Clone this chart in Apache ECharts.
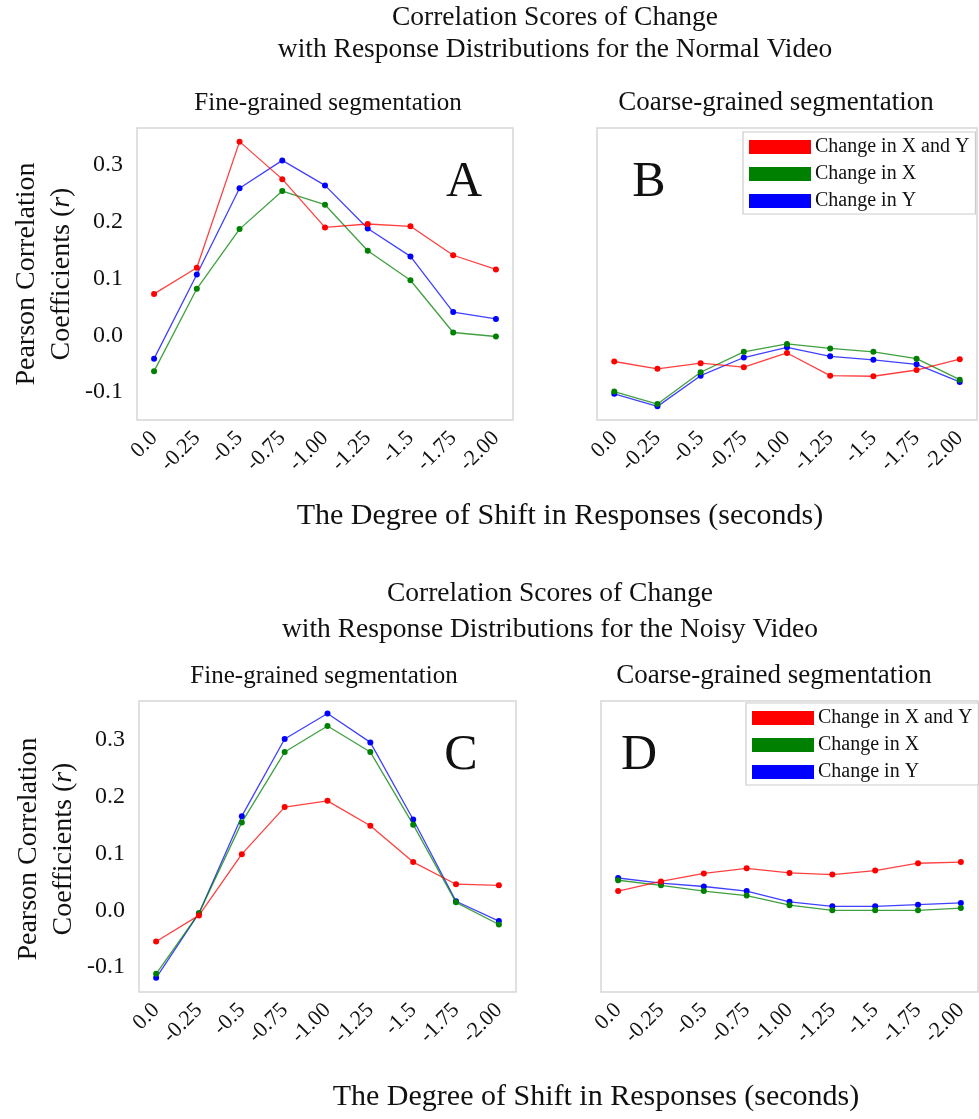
<!DOCTYPE html>
<html>
<head>
<meta charset="utf-8">
<script src="https://cdn.jsdelivr.net/npm/echarts@6/dist/echarts.min.js"></script>
<style>html,body{margin:0;padding:0;background:#fff;}#c{width:979px;height:1119px;}</style>
</head>
<body>
<div id="c"></div>
<script>
const shiftLabels = ['0.0','-0.25','-0.5','-0.75','-1.00','-1.25','-1.5','-1.75','-2.00'];
const yTicks = [-0.1, 0, 0.1, 0.2, 0.3];
const seriesNames = ['Change in X and Y', 'Change in X', 'Change in Y'];
const seriesColors = ['#ff0000', '#008000', '#0000ff'];

const normalFineXY = [0.073, 0.119, 0.341, 0.275, 0.190, 0.196, 0.192, 0.141, 0.116];
const normalFineX  = [-0.063, 0.082, 0.187, 0.254, 0.230, 0.149, 0.097, 0.005, -0.002];
const normalFineY  = [-0.041, 0.107, 0.259, 0.308, 0.264, 0.188, 0.139, 0.041, 0.029];

const normalCoarseXY = [-0.046, -0.059, -0.049, -0.056, -0.031, -0.071, -0.072, -0.061, -0.042];
const normalCoarseX  = [-0.099, -0.121, -0.065, -0.029, -0.015, -0.023, -0.029, -0.041, -0.078];
const normalCoarseY  = [-0.103, -0.125, -0.071, -0.039, -0.021, -0.037, -0.043, -0.051, -0.082];

const noisyFineXY = [-0.055, -0.009, 0.099, 0.182, 0.193, 0.149, 0.085, 0.046, 0.044];
const noisyFineX  = [-0.112, -0.005, 0.155, 0.279, 0.325, 0.279, 0.151, 0.014, -0.025];
const noisyFineY  = [-0.119, -0.005, 0.166, 0.302, 0.347, 0.296, 0.160, 0.016, -0.019];

const noisyCoarseXY = [0.034, 0.051, 0.065, 0.074, 0.066, 0.063, 0.070, 0.083, 0.085];
const noisyCoarseX  = [0.053, 0.044, 0.034, 0.026, 0.009, 0.000, 0.000, 0.000, 0.004];
const noisyCoarseY  = [0.057, 0.048, 0.042, 0.034, 0.015, 0.007, 0.007, 0.010, 0.013];

const FONT = "'Liberation Serif', 'DejaVu Serif', serif";
const panels = [
  {grid:{left:137, top:128, width:376, height:292}, ymin:-0.149, ymax:0.365, showY:true, data:[normalFineXY, normalFineX, normalFineY]},
  {grid:{left:597, top:128, width:380, height:292}, ymin:-0.149, ymax:0.365, showY:false, data:[normalCoarseXY, normalCoarseX, normalCoarseY]},
  {grid:{left:139, top:701, width:377, height:291}, ymin:-0.144, ymax:0.369, showY:true, data:[noisyFineXY, noisyFineX, noisyFineY]},
  {grid:{left:601, top:701, width:377, height:291}, ymin:-0.144, ymax:0.369, showY:false, data:[noisyCoarseXY, noisyCoarseX, noisyCoarseY]}
];
const idx = shiftLabels.map((_, i) => i);

const grids = [], xAxes = [], yAxes = [], series = [];
panels.forEach((p, k) => {
  grids.push(Object.assign({show:true, borderColor:'#d6d6d6', borderWidth:1.5, backgroundColor:'#fff'}, p.grid));
  xAxes.push({
    type:'value', gridIndex:k, min:-0.4, max:8.4,
    axisLine:{show:false}, axisTick:{show:false}, splitLine:{show:false},
    axisLabel:{customValues:idx, rotate:45, margin:15, fontFamily:FONT, fontSize:22, color:'#111',
      formatter:(v) => shiftLabels[Math.round(v)]}
  });
  yAxes.push({
    type:'value', gridIndex:k, min:p.ymin, max:p.ymax,
    axisLine:{show:false}, axisTick:{show:false}, splitLine:{show:false},
    axisLabel:{show:p.showY, customValues:yTicks, margin:14, fontFamily:FONT, fontSize:24, color:'#111',
      formatter:(v) => (Math.abs(v) < 1e-9 ? 0 : v).toFixed(1)}
  });
  p.data.forEach((arr, j) => {
    series.push({
      type:'line', name:seriesNames[j], xAxisIndex:k, yAxisIndex:k,
      data: arr.map((v, i) => [idx[i], v]),
      symbol:'circle', symbolSize:6, showSymbol:true,
      lineStyle:{color:seriesColors[j], width:1.3, opacity:0.75},
      itemStyle:{color:seriesColors[j]},
      emphasis:{disabled:true}, animation:false, z: 3 - j
    });
  });
});

function legendAt(left, top) {
  return {
    left:left, top:top, orient:'vertical', icon:'rect', itemWidth:62, itemHeight:14, itemGap:7,
    borderColor:'#cccccc', borderWidth:1.2, padding:[5,6,3,6], backgroundColor:'#fff',
    textStyle:{fontFamily:FONT, fontSize:20, color:'#111', padding:[0,0,0,-1]},
    data: seriesNames.map((n, j) => ({name:n, itemStyle:{color:seriesColors[j]}})),
    selectedMode:false
  };
}

function txt(x, y, text, size, extra) {
  return Object.assign({type:'text', x:x, y:y, style:{text:text, fontFamily:FONT, fontSize:size, fill:'#111', align:'center', verticalAlign:'middle'}}, extra || {});
}
function yName(cx, cy) {
  return {type:'text', x:cx, y:cy, rotation:Math.PI/2,
    style:{text:'Pearson Correlation\nCoefficients ({i|r})', fontFamily:FONT, fontSize:28, fill:'#111', align:'center', verticalAlign:'middle', lineHeight:35,
      rich:{i:{fontStyle:'italic', fontFamily:FONT, fontSize:28}}}};
}

const graphics = [
  txt(555, 18, 'Correlation Scores of Change', 27.5),
  txt(555, 50, 'with Response Distributions for the Normal Video', 27.5),
  txt(328, 103, 'Fine-grained segmentation', 25),
  txt(776, 103, 'Coarse-grained segmentation', 27),
  txt(560, 516, 'The Degree of Shift in Responses (seconds)', 30),
  txt(550, 594, 'Correlation Scores of Change', 27.5),
  txt(550, 630, 'with Response Distributions for the Noisy Video', 27.5),
  txt(324, 676, 'Fine-grained segmentation', 25),
  txt(774, 676, 'Coarse-grained segmentation', 27),
  txt(596, 1097, 'The Degree of Shift in Responses (seconds)', 30),
  txt(464, 183, 'A', 50),
  txt(649, 183, 'B', 50),
  txt(461, 756, 'C', 50),
  txt(639, 756, 'D', 50),
  yName(44, 274),
  yName(46, 849)
];

const chart = echarts.init(document.getElementById('c'), null, {renderer:'canvas'});
chart.setOption({
  backgroundColor:'#fff',
  animation:false,
  grid:grids, xAxis:xAxes, yAxis:yAxes, series:series,
  legend:[legendAt(743, 132), legendAt(746, 703)],
  graphic:graphics
});
</script>
</body>
</html>
